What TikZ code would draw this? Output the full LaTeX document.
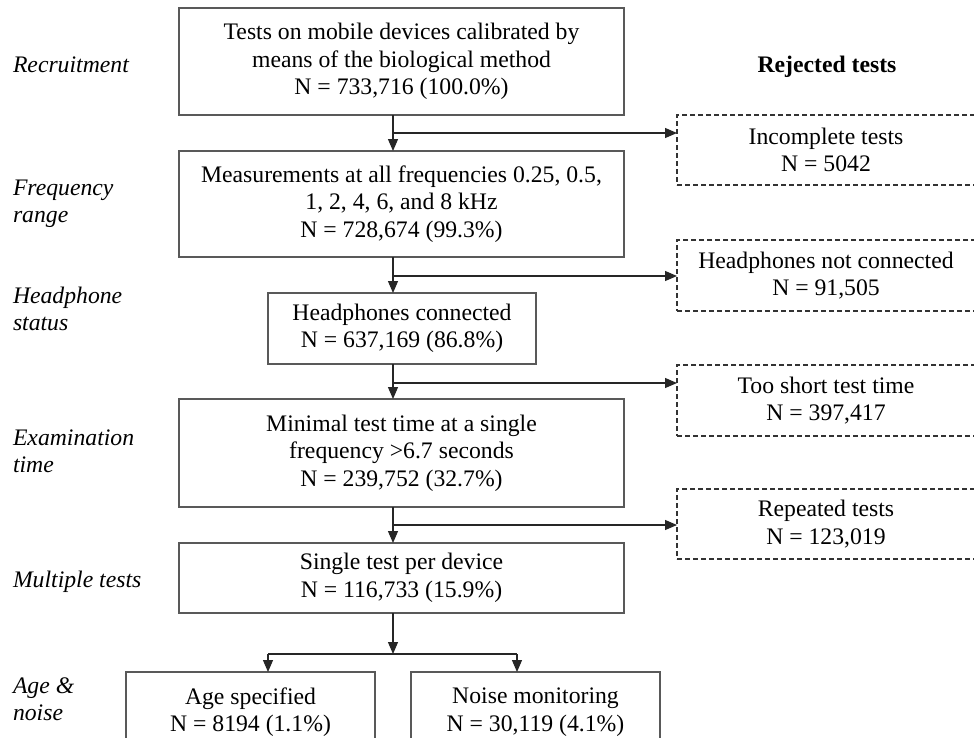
\documentclass[tikz,border=0pt]{standalone}
\usepackage{fontspec}
\setmainfont{Liberation Serif}
\usetikzlibrary{arrows.meta}
\begin{document}
\begin{tikzpicture}[x=1pt,y=-1pt,
 txt/.style={font=\fontsize{23.7}{27.5}\selectfont, inner sep=0pt, outer sep=0pt},
 mainbox/.style={txt, draw=black!65, line width=1.2pt, align=center, minimum width=#1},
 rejbox/.style={txt, draw=black!80, line width=1.2pt, dash pattern=on 5pt off 3pt, align=center, minimum width=298pt, minimum height=70pt},
 lbl/.style={txt, anchor=base west, font=\fontsize{23.7}{27.5}\selectfont\itshape},
 arr/.style={draw=black!85, line width=1.2pt, -{Triangle[length=12pt,width=10pt]}},
 conn/.style={draw=black!85, line width=1.2pt}
]
\clip (0,0) rectangle (974,737);
\fill[white] (0,0) rectangle (974,737);

% main flow boxes
\node[mainbox=445pt, minimum height=107pt] (b1) at (401.5,61.5) {Tests on mobile devices calibrated by\\means of the biological method\\N = 733,716 (100.0\%)};
\node[mainbox=445pt, minimum height=106pt] (b2) at (401.5,204) {Measurements at all frequencies 0.25, 0.5,\\1, 2, 4, 6, and 8 kHz\\N = 728,674 (99.3\%)};
\node[mainbox=268pt, minimum height=71pt] (b3) at (402,328.5) {Headphones connected\\N = 637,169 (86.8\%)};
\node[mainbox=445pt, minimum height=108pt] (b4) at (401.5,453) {Minimal test time at a single\\frequency >6.7 seconds\\N = 239,752 (32.7\%)};
\node[mainbox=445pt, minimum height=70pt] (b5) at (401.5,578) {Single test per device\\N = 116,733 (15.9\%)};
\node[mainbox=249pt, minimum height=80pt] (b6) at (250.5,712) {Age specified\\N = 8194 (1.1\%)};
\node[mainbox=249pt, minimum height=80pt] (b7) at (535.5,712) {Noise monitoring\\N = 30,119 (4.1\%)};

% rejected tests
\node[txt, font=\fontsize{23.7}{27.5}\selectfont\bfseries, anchor=base] (rh) at (827,72) {Rejected tests};
\node[rejbox] (d1) at (826,150) {Incomplete tests\\N = 5042};
\node[rejbox, minimum height=71pt] (d2) at (826,275.5) {Headphones not connected\\N = 91,505};
\node[rejbox, minimum height=71pt] (d3) at (826,400.5) {Too short test time\\N = 397,417};
\node[rejbox] (d4) at (826,524) {Repeated tests\\N = 123,019};

% stage labels
\node[lbl] (l1) at (13,72) {Recruitment};
\node[lbl] (l2) at (13,195) {\begin{tabular}[t]{@{}l@{}}Frequency\\range\end{tabular}};
\node[lbl] (l3) at (13,303) {\begin{tabular}[t]{@{}l@{}}Headphone\\status\end{tabular}};
\node[lbl] (l4) at (13,445) {\begin{tabular}[t]{@{}l@{}}Examination\\time\end{tabular}};
\node[lbl] (l5) at (13,587) {Multiple tests};
\node[lbl] (l6) at (13,693) {\begin{tabular}[t]{@{}l@{}}Age \&\\noise\end{tabular}};

% connectors
\coordinate (sp) at (393,0);
\coordinate (j1) at (393,133);
\coordinate (j2) at (393,276);
\coordinate (j3) at (393,383);
\coordinate (j4) at (393,525);
\coordinate (split) at (393,654);
\coordinate (sl) at (268,654);
\coordinate (sr) at (517,654);

\draw[arr] (b1.south -| sp) -- (b2.north -| sp);
\draw[arr] (b2.south -| sp) -- (b3.north -| sp);
\draw[arr] (b3.south -| sp) -- (b4.north -| sp);
\draw[arr] (b4.south -| sp) -- (b5.north -| sp);
\draw[arr] (b5.south -| sp) -- (split);

\draw[arr] (j1) -- (j1 -| d1.west);
\draw[arr] (j2) -- (j2 -| d2.west);
\draw[arr] (j3) -- (j3 -| d3.west);
\draw[arr] (j4) -- (j4 -| d4.west);

\draw[conn] (sl) -- (sr);
\draw[arr] (sl) -- (sl |- b6.north);
\draw[arr] (sr) -- (sr |- b7.north);
\end{tikzpicture}
\end{document}
